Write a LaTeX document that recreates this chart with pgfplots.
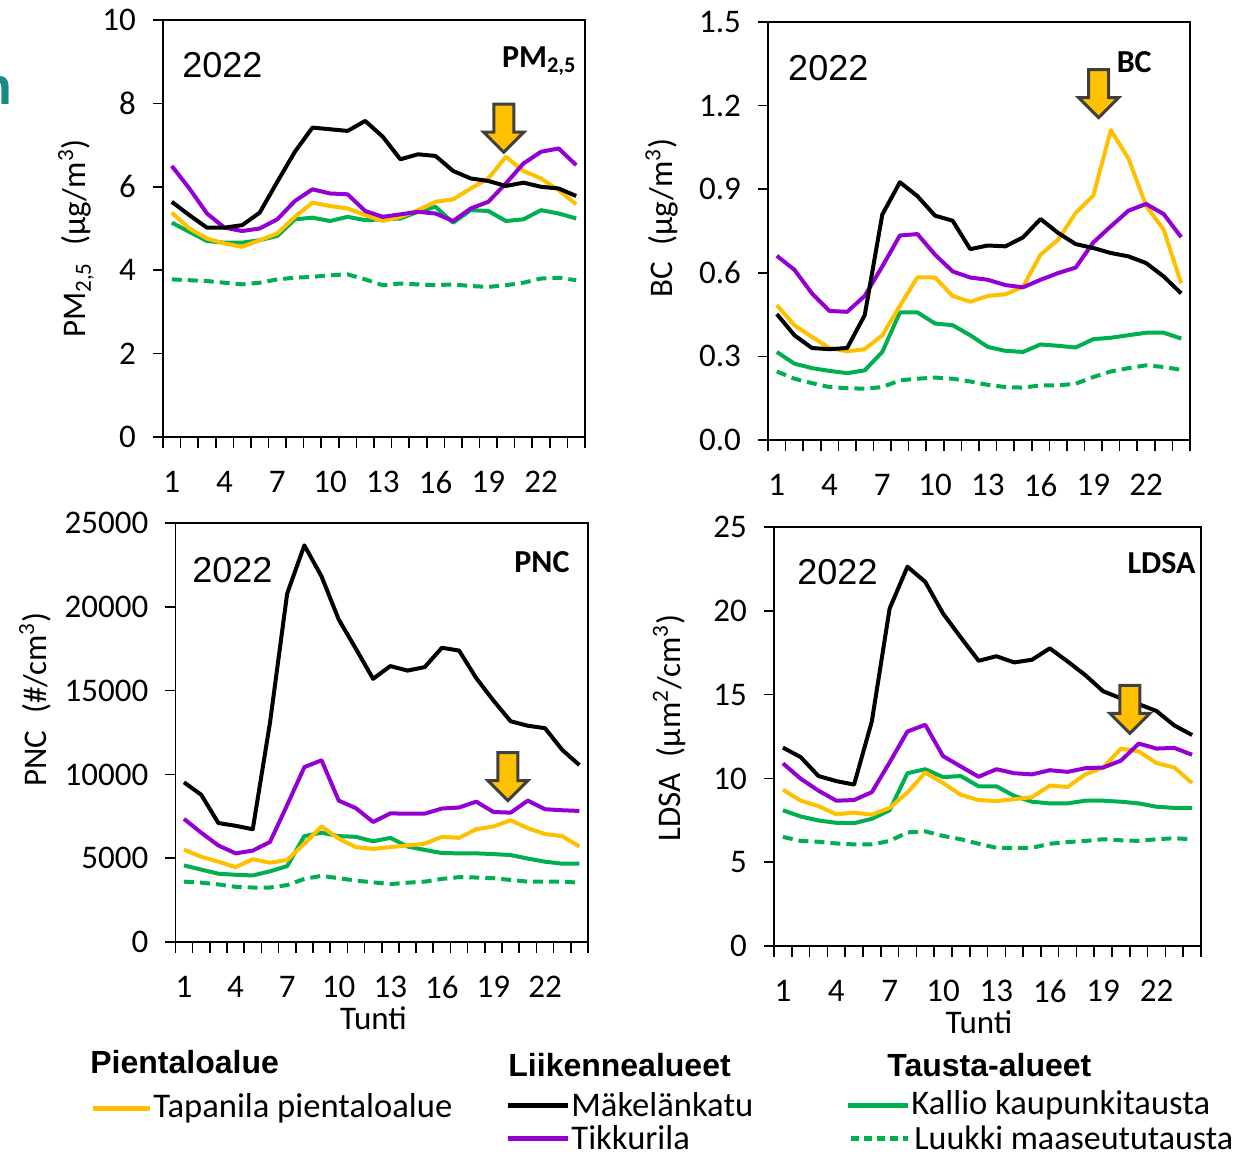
\documentclass[border=0pt]{standalone}
\usepackage{fontspec}
\setmainfont{Carlito}
\newfontfamily\arialf{Liberation Sans}
\usepackage{pgfplots}
\usepackage{pgfplotstable}
\pgfplotsset{compat=1.18}

\definecolor{cTap}{HTML}{FFC000}
\definecolor{cTik}{HTML}{9400D3}
\definecolor{cKal}{HTML}{00B050}
\definecolor{cTeal}{HTML}{1A8A84}
\definecolor{cArr}{HTML}{404040}

% columns: h tap mak tik kal luu
\pgfplotstableread{
h tap mak tik kal luu
1 5.38 5.64 6.50 5.14 3.78
2 5.00 5.32 5.96 4.92 3.76
3 4.76 5.02 5.36 4.70 3.74
4 4.64 5.02 5.02 4.66 3.70
5 4.56 5.08 4.94 4.66 3.66
6 4.72 5.38 5.00 4.72 3.70
7 4.88 6.12 5.22 4.82 3.78
8 5.28 6.84 5.66 5.22 3.82
9 5.62 7.42 5.94 5.26 3.84
10 5.54 7.38 5.84 5.18 3.88
11 5.48 7.34 5.82 5.28 3.90
12 5.32 7.58 5.42 5.20 3.78
13 5.18 7.20 5.28 5.22 3.64
14 5.28 6.66 5.34 5.24 3.68
15 5.44 6.78 5.40 5.40 3.66
16 5.64 6.74 5.36 5.52 3.64
17 5.70 6.38 5.18 5.14 3.66
18 5.96 6.20 5.48 5.44 3.62
19 6.20 6.14 5.64 5.42 3.60
20 6.72 6.02 6.08 5.18 3.64
21 6.38 6.10 6.56 5.22 3.70
22 6.20 6.00 6.84 5.44 3.80
23 5.92 5.96 6.92 5.36 3.82
24 5.58 5.78 6.52 5.24 3.76
}\tabPM

\pgfplotstableread{
h tap mak tik kal luu
1 0.484 0.452 0.661 0.316 0.246
2 0.412 0.376 0.611 0.274 0.220
3 0.370 0.330 0.526 0.258 0.204
4 0.330 0.326 0.463 0.248 0.190
5 0.318 0.330 0.460 0.240 0.186
6 0.326 0.448 0.517 0.250 0.184
7 0.376 0.809 0.623 0.316 0.190
8 0.481 0.925 0.734 0.458 0.214
9 0.584 0.875 0.739 0.458 0.220
10 0.583 0.805 0.665 0.418 0.224
11 0.517 0.787 0.605 0.412 0.220
12 0.496 0.685 0.583 0.376 0.210
13 0.517 0.698 0.575 0.334 0.198
14 0.523 0.695 0.556 0.320 0.190
15 0.550 0.727 0.548 0.316 0.188
16 0.665 0.793 0.575 0.343 0.196
17 0.719 0.743 0.599 0.338 0.196
18 0.815 0.703 0.619 0.332 0.202
19 0.877 0.689 0.709 0.362 0.226
20 1.112 0.671 0.767 0.367 0.246
21 1.010 0.659 0.823 0.376 0.258
22 0.841 0.635 0.847 0.385 0.268
23 0.755 0.587 0.811 0.385 0.262
24 0.562 0.526 0.728 0.364 0.252
}\tabBC

\pgfplotstableread{
h tap mak tik kal luu
1 5515 9529 7347 4569 3602
2 5083 8788 6524 4322 3540
3 4795 7100 5762 4075 3437
4 4466 6935 5289 4013 3293
5 4939 6730 5454 3972 3252
6 4733 13068 5968 4219 3252
7 4898 20786 8170 4528 3396
8 5865 23667 10434 6318 3766
9 6894 21815 10846 6524 3951
10 6174 19242 8438 6318 3807
11 5660 17493 7985 6277 3663
12 5557 15703 7162 6009 3560
13 5660 16464 7676 6215 3457
14 5762 16196 7656 5701 3540
15 5865 16402 7656 5495 3602
16 6277 17555 7964 5310 3766
17 6215 17390 8026 5289 3869
18 6730 15744 8376 5289 3848
19 6894 14406 7759 5248 3807
20 7265 13171 7718 5186 3704
21 6791 12904 8438 4980 3602
22 6442 12760 7923 4795 3602
23 6318 11463 7862 4672 3602
24 5701 10558 7820 4672 3540
}\tabPNC

\pgfplotstableread{
h tap mak tik kal luu
1 9.33 11.84 10.90 8.10 6.51
2 8.67 11.27 9.98 7.73 6.27
3 8.35 10.14 9.27 7.49 6.22
4 7.86 9.84 8.67 7.35 6.12
5 7.96 9.63 8.71 7.33 6.06
6 7.84 13.41 9.18 7.59 6.06
7 8.24 20.14 10.96 8.10 6.27
8 9.16 22.63 12.80 10.31 6.78
9 10.35 21.73 13.20 10.55 6.84
10 9.73 19.84 11.33 10.08 6.57
11 9.02 18.41 10.71 10.14 6.37
12 8.71 17.02 10.10 9.53 6.10
13 8.65 17.29 10.55 9.53 5.86
14 8.76 16.92 10.31 8.96 5.86
15 8.88 17.08 10.24 8.61 5.86
16 9.57 17.76 10.49 8.51 6.10
17 9.49 16.98 10.39 8.51 6.20
18 10.24 16.16 10.61 8.67 6.27
19 10.65 15.20 10.65 8.67 6.37
20 11.78 14.78 11.06 8.61 6.31
21 11.61 14.43 12.08 8.51 6.27
22 10.92 14.02 11.78 8.31 6.37
23 10.65 13.16 11.82 8.24 6.43
24 9.73 12.59 11.41 8.24 6.37
}\tabLDSA

\newcommand{\fs}[1]{\fontsize{#1}{#1}\selectfont}
\newcommand{\downmark}[2]{%
  \draw[draw=cArr, fill=cTap, line width=1.5pt, line join=miter]
    (axis cs:#1,#2) -- ++(-10pt,10pt) -- ++(5pt,0pt) -- ++(0pt,14pt)
    -- ++(10pt,0pt) -- ++(0pt,-14pt) -- ++(5pt,0pt) -- cycle;}
\newcommand{\allplots}[1]{%
  \addplot[cKal, line width=2pt, dash pattern=on 5pt off 3pt] table[x=h,y=luu] {#1};
  \addplot[cKal, line width=2pt] table[x=h,y=kal] {#1};
  \addplot[cTap, line width=2pt] table[x=h,y=tap] {#1};
  \addplot[cTik, line width=2pt] table[x=h,y=tik] {#1};
  \addplot[black, line width=2pt] table[x=h,y=mak] {#1};}

\tikzset{
  yrtext/.style={anchor=base west, inner sep=0pt, font=\arialf\fs{18}},
  nametext/.style={anchor=base east, inner sep=0pt, font=\bfseries\fs{16}},
}
\pgfplotsset{
  panel/.style={
    scale only axis, clip=false,
    xmin=0.5, xmax=24.5, ymin=0,
    xtick={1,4,...,22}, minor xtick={0.5,1.5,...,24.5},
    major x tick style={draw=none},
    tick align=outside, xtick pos=bottom, ytick pos=left,
    major tick length=5pt, minor tick length=5.5pt,
    axis line style={line width=0.8pt},
    tick style={line width=0.8pt, black},
    /pgf/number format/assume math mode=true,
    tick label style={font=\fs{16.5}},
    xticklabel shift=8.5pt, yticklabel shift=5pt,
    every axis x label/.style={font=\fs{16.5}},
    every axis y label/.style={rotate=90, anchor=south, font=\fs{16.5}},
    every axis plot/.append style={line join=round},
  },
}

\begin{document}
\begin{tikzpicture}[x=0.5pt,y=-0.5pt]
\useasboundingbox (0,0) rectangle (1241,1158);
\node[anchor=east, inner sep=0pt, text=cTeal, font=\arialf\bfseries\fs{26}] at (13,90) {n};

% PM2.5
\begin{axis}[panel, at={(81.5pt,-10pt)}, anchor=north west,
  width=211pt, height=208.5pt, ymax=10, ytick={0,2,...,10},
  ylabel={PM\textsubscript{2,5}\enspace(µg/m\textsuperscript{3})},
  ylabel style={at={(axis description cs:-0.147,0.476)}}]
\allplots{\tabPM}
\node[yrtext] at (axis description cs:0.045,0.863) {2022};
\node[nametext] at (axis description cs:0.981,0.887) {PM\textsubscript{2,5}};
\downmark{19.88}{6.83}
\end{axis}

% BC
\begin{axis}[panel, at={(384pt,-11pt)}, anchor=north west,
  width=211pt, height=209pt, ymax=1.5, ytick={0,0.3,0.6,0.9,1.2,1.5},
  yticklabel style={/pgf/number format/.cd, fixed, fixed zerofill, precision=1},
  ylabel={BC\enspace(µg/m\textsuperscript{3})},
  ylabel style={at={(axis description cs:-0.195,0.531)}}]
\allplots{\tabBC}
\node[yrtext] at (axis description cs:0.047,0.861) {2022};
\node[nametext] at (axis description cs:0.91,0.88) {BC};
\downmark{19.3}{1.157}
\end{axis}

% PNC
\begin{axis}[panel, at={(87.7pt,-261.5pt)}, anchor=north west,
  width=206.3pt, height=209.5pt, ymax=25000, ytick={0,5000,...,25000},
  scaled y ticks=false, yticklabel style={/pgf/number format/1000 sep={}},
  ylabel={PNC\enspace(\#/cm\textsuperscript{3})},
  ylabel style={at={(axis description cs:-0.284,0.579)}},
  xlabel={Tunti},
  xlabel style={at={(axis description cs:0.48,0)}, anchor=center, yshift=-38pt}]
\allplots{\tabPNC}
\node[yrtext] at (axis description cs:0.04,0.859) {2022};
\node[nametext] at (axis description cs:0.956,0.883) {PNC};
\downmark{19.84}{8436}
\end{axis}

% LDSA
\begin{axis}[panel, at={(387pt,-263.5pt)}, anchor=north west,
  width=213.5pt, height=209.5pt, ymax=25, ytick={0,5,...,25},
  ylabel={LDSA\enspace(µm\textsuperscript{2}/cm\textsuperscript{3})},
  ylabel style={at={(axis description cs:-0.19,0.52)}},
  xlabel={Tunti},
  xlabel style={at={(axis description cs:0.48,0)}, anchor=center, yshift=-38pt}]
\allplots{\tabLDSA}
\node[yrtext] at (axis description cs:0.054,0.862) {2022};
\node[nametext] at (axis description cs:0.988,0.888) {LDSA};
\downmark{20.5}{12.69}
\end{axis}

% legend
\begin{scope}[every node/.style={inner sep=0pt, anchor=west}]
\node[font=\arialf\bfseries\fs{16}] at (90,1062) {Pientaloalue};
\node[font=\arialf\bfseries\fs{16}] at (508,1065) {Liikennealueet};
\node[font=\arialf\bfseries\fs{16}] at (887,1065) {Tausta-alueet};
\draw[cTap, line width=2.5pt] (93,1108) -- (150,1108);
\node[font=\fs{17.3}] at (153,1108) {Tapanila pientaloalue};
\draw[black, line width=2.5pt] (508,1105) -- (568,1105);
\node[font=\fs{17.3}] at (571,1105) {Mäkelänkatu};
\draw[cTik, line width=2.5pt] (508,1138) -- (568,1138);
\node[font=\fs{17.3}] at (571,1138) {Tikkurila};
\draw[cKal, line width=2.5pt] (848,1105) -- (908,1105);
\node[font=\fs{17.3}] at (911,1105) {Kallio kaupunkitausta};
\draw[cKal, line width=2.5pt, dash pattern=on 4pt off 2.5pt] (851,1138) -- (908,1138);
\node[font=\fs{17}] at (914,1138) {Luukki maaseututausta};
\end{scope}
\end{tikzpicture}
\end{document}
